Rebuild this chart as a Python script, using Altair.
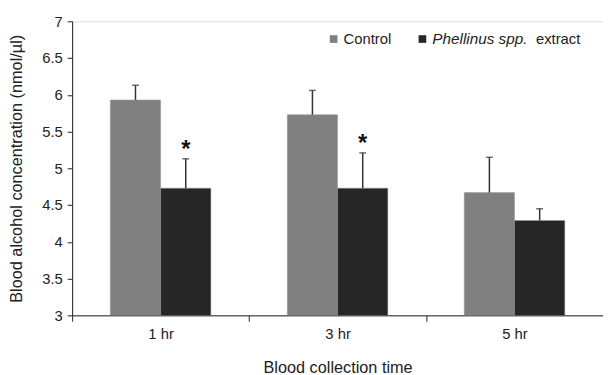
import altair as alt
import pandas as pd

times = ["1 hr", "3 hr", "5 hr"]
groups = ["Control", "Extract"]
control_mean = [5.93, 5.73, 4.67]
control_err = [0.20, 0.33, 0.48]
extract_mean = [4.73, 4.73, 4.29]
extract_err = [0.40, 0.48, 0.16]
extract_star = ["*", "*", ""]

rows = []
for i, t in enumerate(times):
    rows.append({"time": t, "group": "Control", "mean": control_mean[i],
                 "top": control_mean[i] + control_err[i], "star": ""})
    rows.append({"time": t, "group": "Extract", "mean": extract_mean[i],
                 "top": extract_mean[i] + extract_err[i], "star": extract_star[i]})
df = pd.DataFrame(rows)

FONT = "Liberation Sans"
W, H = 538, 298

x_axis = alt.Axis(title="Blood collection time", tickBand="extent", labelAngle=0,
                  tickSize=6, labelPadding=5, titlePadding=19, grid=False)
y_axis = alt.Axis(title="Blood alcohol concentration (nmol/\u00b5l)",
                  values=[3, 3.5, 4, 4.5, 5, 5.5, 6, 6.5, 7], format=".1~f",
                  labelOverlap=False, tickSize=5, labelPadding=5, titlePadding=17,
                  grid=False)
x_scale = alt.Scale(domain=times, paddingInner=0, paddingOuter=0)
y_scale = alt.Scale(domain=[3, 7], zero=False)

def X():
    return alt.X("time:N", scale=x_scale, axis=x_axis, sort=times)

xo = alt.XOffset("group:N", sort=groups, scale=alt.Scale(paddingOuter=0.76, paddingInner=0))

base = alt.Chart(df)

bars = base.mark_bar(stroke="#9a9a9a", strokeWidth=0.5, clip=True).encode(
    x=X(), xOffset=xo,
    y=alt.Y("mean:Q", scale=y_scale, axis=y_axis),
    color=alt.Color("group:N", scale=alt.Scale(domain=groups, range=["#808080", "#262626"]),
                    legend=None))

err = base.mark_rule(color="#333333", strokeWidth=1.5).encode(
    x=X(), xOffset=xo,
    y=alt.Y("mean:Q", scale=y_scale, axis=y_axis), y2="top:Q")

cap = base.mark_tick(color="#333333", thickness=1.5, size=7, orient="horizontal").encode(
    x=X(), xOffset=xo, y=alt.Y("top:Q", scale=y_scale, axis=y_axis))

star = base.mark_text(fontSize=24, fontWeight="bold", font=FONT, color="#111",
                      dy=-9, baseline="middle").encode(
    x=X(), xOffset=xo, y=alt.Y("top:Q", scale=y_scale, axis=y_axis), text="star:N")

# custom legend (mixed italic text)
legend_colors = ["#808080", "#262626"]
leg_sq = alt.Chart(pd.DataFrame({"c": legend_colors, "px": [265, 355]})).mark_square(
    size=60, opacity=1).encode(
    x=alt.X("px:Q", scale=None), y=alt.value(18),
    color=alt.Color("c:N", scale=None))
leg_t1 = alt.Chart(pd.DataFrame({"t": ["Control"]})).mark_text(
    align="left", baseline="middle", fontSize=15, font=FONT, color="#222").encode(
    x=alt.value(275), y=alt.value(18), text="t:N")
leg_t2 = alt.Chart(pd.DataFrame({"t": ["Phellinus spp."]})).mark_text(
    align="left", baseline="middle", fontSize=15.5, font=FONT, fontStyle="italic",
    color="#222").encode(x=alt.value(365), y=alt.value(18), text="t:N")
leg_t3 = alt.Chart(pd.DataFrame({"t": ["extract"]})).mark_text(
    align="right", baseline="middle", fontSize=15, font=FONT, color="#222").encode(
    x=alt.value(515), y=alt.value(18), text="t:N")

chart = alt.layer(bars, err, cap, star, leg_sq, leg_t1, leg_t2, leg_t3).properties(
    width=W, height=H,
    autosize=alt.AutoSizeParams(type="none"),
    padding={"left": 65, "top": 11, "right": 0, "bottom": 58},
).configure_view(stroke=None).configure(background="white").configure_axis(
    labelFont=FONT, titleFont=FONT, labelFontSize=15, titleFontSize=16.5,
    titleFontWeight="normal", labelColor="#222", titleColor="#222",
    domainColor="#222", tickColor="#222", domainWidth=1, tickWidth=1)

chart.save("out.html", embed_options={"renderer": "svg", "actions": False})
